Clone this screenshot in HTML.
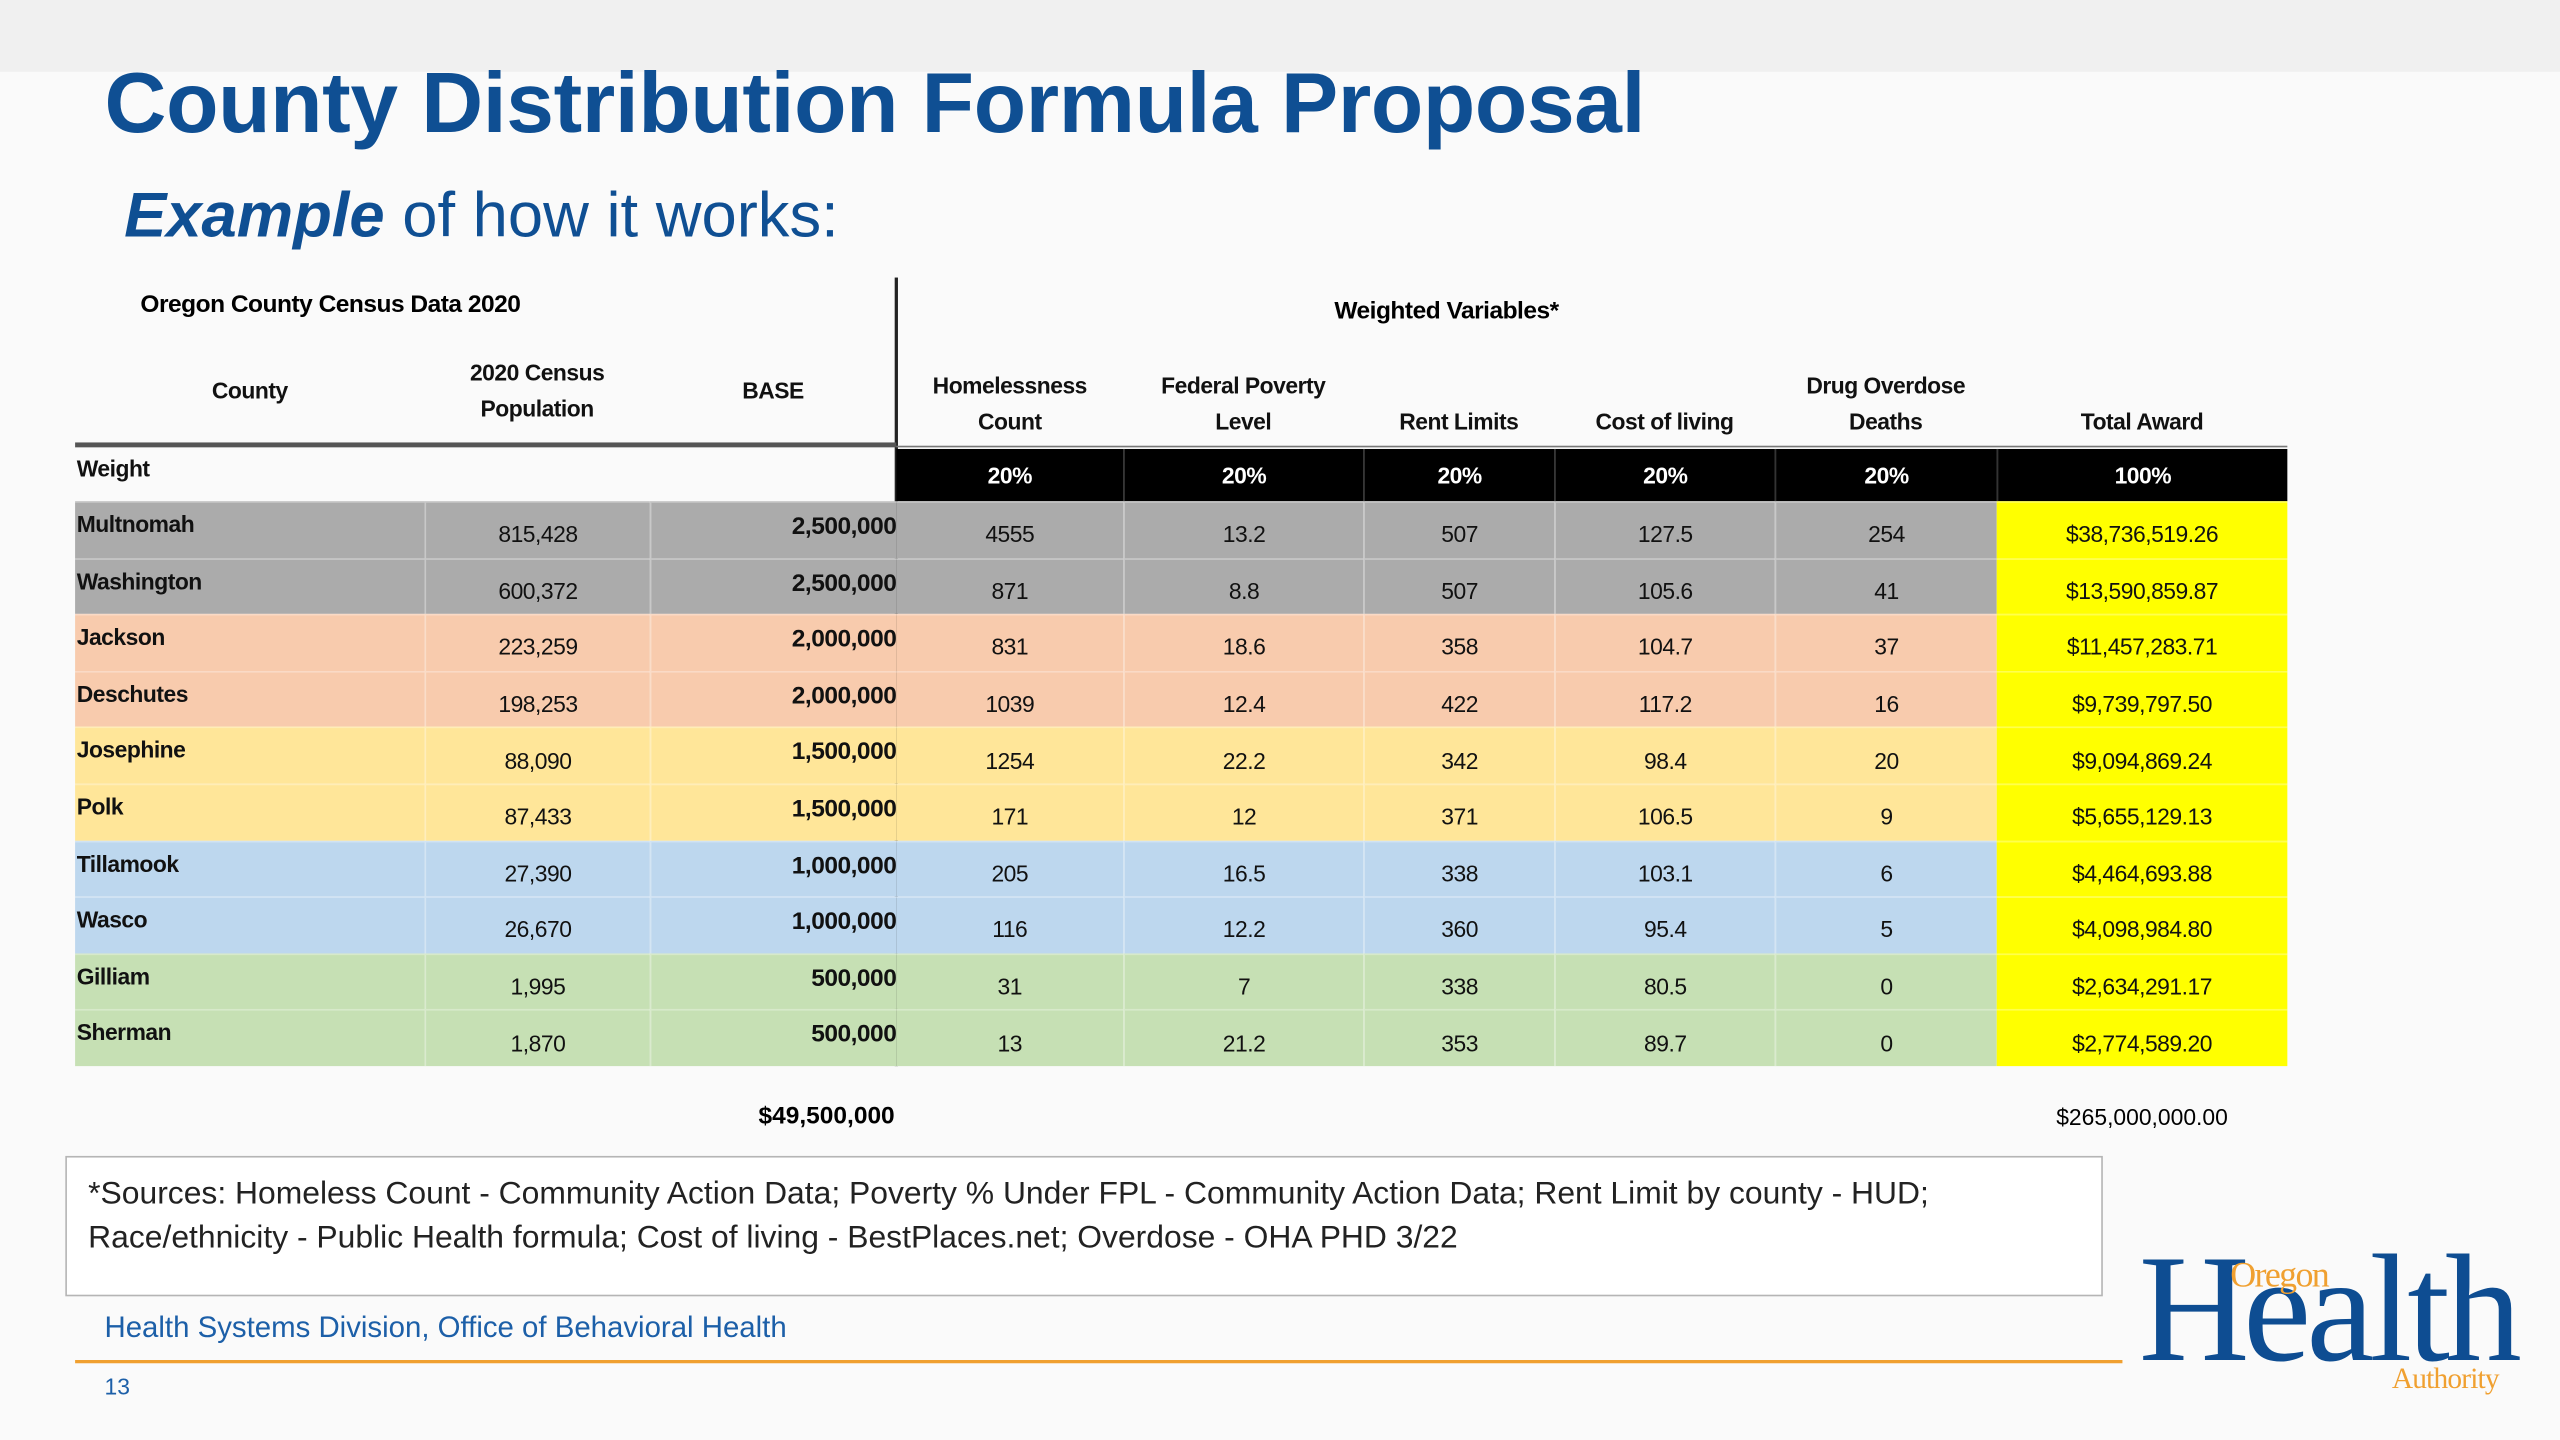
<!DOCTYPE html>
<html><head><meta charset="utf-8">
<style>
html,body{margin:0;padding:0;width:2560px;height:1440px;overflow:hidden;background:#fafafa;}
#stage{position:absolute;left:0;top:0;width:1568px;height:882px;transform:scale(1.63265);transform-origin:0 0;font-family:"Liberation Sans",sans-serif;}
.abs{position:absolute;}
.cell{position:absolute;box-sizing:border-box;font-size:14px;color:#111;display:flex;align-items:center;justify-content:center;white-space:nowrap;letter-spacing:-0.3px;}
.hdr{font-weight:bold;font-size:14px;text-align:center;line-height:22px;letter-spacing:-0.3px;}
</style></head><body>
<div id="stage">
  <div class="abs" style="left:0;top:0;width:1568px;height:44px;background:#f0f0f0;"></div>
  <div class="abs" style="left:64px;top:33px;font-size:52.5px;font-weight:bold;color:#0f4f93;letter-spacing:-0.2px;">County Distribution Formula Proposal</div>
  <div class="abs" style="left:76px;top:111px;font-size:38.8px;color:#0f4f93;"><b><i>Example</i></b> of how it works:</div>

  <div class="abs hdr" style="left:86px;top:176px;font-size:15px;">Oregon County Census Data 2020</div>
  <div class="abs hdr" style="left:549px;width:674px;top:180px;font-size:15px;">Weighted Variables*</div>
  <div id="table"></div>
  <div class="abs" style="left:548px;top:170px;width:2px;height:483px;background:#222;"></div>
  <div class="abs" style="left:46px;top:271px;width:503px;height:3px;background:#555;"></div>
  <div class="abs" style="left:549px;top:273px;width:852px;height:1px;background:#777;"></div>

  <div class="abs" style="left:398px;width:150px;top:675px;text-align:right;font-weight:bold;font-size:15px;">$49,500,000</div>
  <div class="abs" style="left:1223px;width:178px;top:676px;text-align:center;font-size:14px;">$265,000,000.00</div>

  <div class="abs" style="left:40px;top:708px;width:1248px;height:86px;border:1px solid #b5b5b5;background:#fff;box-sizing:border-box;padding:9px 13px;font-size:19.5px;line-height:27px;color:#222;letter-spacing:0px;white-space:nowrap;">*Sources: Homeless Count - Community Action Data; Poverty % Under FPL - Community Action Data; Rent Limit by county - HUD;<br>Race/ethnicity - Public Health formula; Cost of living - BestPlaces.net; Overdose - OHA PHD 3/22</div>

  <div class="abs" style="left:64px;top:803px;font-size:18px;color:#1c5fa8;">Health Systems Division, Office of Behavioral Health</div>
  <div class="abs" style="left:46px;top:833px;width:1254px;height:2px;background:#f0a030;"></div>
  <div class="abs" style="left:64px;top:841px;font-size:14px;color:#1c5fa8;">13</div>

  <div class="abs" style="left:1308px;top:752px;width:240px;height:110px;font-family:'Liberation Serif',serif;">
    <div class="abs" style="left:2px;top:-4px;font-size:94px;color:#0e4d92;letter-spacing:-4px;">H<span style="letter-spacing:-3px">ealth</span></div>
    <div class="abs" style="left:58px;top:16px;font-size:22px;color:#f0a030;letter-spacing:-1px;">Oregon</div>
    <div class="abs" style="left:157px;top:82px;font-size:18px;color:#f0a030;letter-spacing:-0.5px;">Authority</div>
  </div>
</div>
<script>
const counties=["Multnomah","Washington","Jackson","Deschutes","Josephine","Polk","Tillamook","Wasco","Gilliam","Sherman"];
const population=["815,428","600,372","223,259","198,253","88,090","87,433","27,390","26,670","1,995","1,870"];
const baseAmt=["2,500,000","2,500,000","2,000,000","2,000,000","1,500,000","1,500,000","1,000,000","1,000,000","500,000","500,000"];
const homeless=[4555,871,831,1039,1254,171,205,116,31,13];
const fpl=["13.2","8.8","18.6","12.4","22.2","12","16.5","12.2","7","21.2"];
const rent=[507,507,358,422,342,371,338,360,338,353];
const costLiving=["127.5","105.6","104.7","117.2","98.4","106.5","103.1","95.4","80.5","89.7"];
const overdose=[254,41,37,16,20,9,6,5,0,0];
const award=["$38,736,519.26","$13,590,859.87","$11,457,283.71","$9,739,797.50","$9,094,869.24","$5,655,129.13","$4,464,693.88","$4,098,984.80","$2,634,291.17","$2,774,589.20"];
const weights=["20%","20%","20%","20%","20%","100%"];
const headers=["County","2020 Census<br>Population","BASE","Homelessness<br>Count","Federal Poverty<br>Level","Rent Limits","Cost of living","Drug Overdose<br>Deaths","Total Award"];

const colX=[46,260,398,549,688,835,952,1087,1223,1401];
const tierColors=["#ababab","#ababab","#f8cbad","#f8cbad","#ffe699","#ffe699","#bdd7ee","#bdd7ee","#c6e0b4","#c6e0b4"];
const rowTop=307,rowH=34.6;
const stage=document.getElementById('stage');
function mk(x,y,w,h,txt,extra){
  const d=document.createElement('div');
  d.className='cell';
  d.style.left=x+'px';d.style.top=y+'px';d.style.width=w+'px';d.style.height=h+'px';
  d.innerHTML=txt;
  if(extra)Object.assign(d.style,extra);
  stage.appendChild(d);return d;
}
headers.forEach((h,i)=>{
  const two=h.indexOf('<br>')>=0;
  const d=mk(colX[i],two?225:247,colX[i+1]-colX[i],two?44:22,h,{fontWeight:'bold',lineHeight:'22px',textAlign:'center',flexDirection:'column'});
  if(i<3){d.style.top=(two?217:228)+'px';}
  
  
});
const wl=mk(46,275,503,32,'Weight',{justifyContent:'flex-start',fontWeight:'bold',paddingLeft:'1px',alignItems:'flex-start',paddingTop:'4px'});


weights.forEach((w,i)=>{
  const d=mk(colX[i+3],275,colX[i+4]-colX[i+3],32,w,{background:'#000',color:'#fff',fontWeight:'bold',borderLeft:i?'1px solid #333':'none'});
  
  
});
counties.forEach((c,r)=>{
  const y=rowTop+r*rowH;
  const vals=[c,population[r],baseAmt[r],homeless[r],fpl[r],rent[r],costLiving[r],overdose[r],award[r]];
  vals.forEach((v,i)=>{
    const ex={background:i===8?'#ffff00':tierColors[r],borderLeft:i>0&&i!==3&&i!==8?'1px solid rgba(255,255,255,0.35)':'none',borderTop:'1px solid rgba(255,255,255,0.3)',paddingTop:'5px'};
    if(i===0){ex.justifyContent='flex-start';ex.fontWeight='bold';ex.alignItems='flex-start';ex.paddingTop='5px';ex.paddingLeft='1px';}
    if(i===2){ex.justifyContent='flex-end';ex.fontWeight='bold';ex.fontSize='15px';ex.alignItems='flex-start';ex.paddingTop='6px';}
    const d=mk(colX[i],y,colX[i+1]-colX[i],rowH,String(v),ex);
    
    
  });
});
</script>
</body></html>
